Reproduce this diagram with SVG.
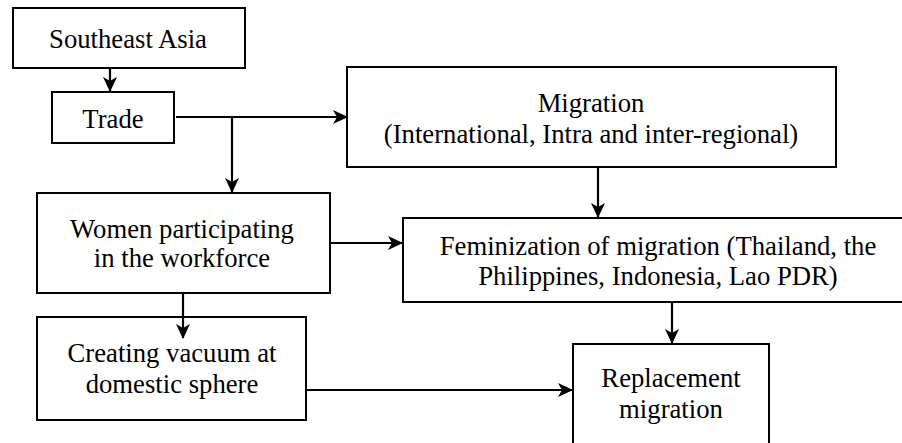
<svg xmlns="http://www.w3.org/2000/svg" width="902" height="443" viewBox="0 0 902 443" font-family="Liberation Serif, DejaVu Serif, serif">
<style>
.b{fill:#fff;stroke:#000;stroke-width:2}
.t{font-size:26.7px;fill:#000;text-anchor:middle}
.c{fill:none;stroke:#000;stroke-width:2.2}
</style>
<defs>
<marker id="ah" markerUnits="userSpaceOnUse" markerWidth="15" markerHeight="14" refX="14" refY="7" orient="auto">
<path d="M0,0 L15,7 L0,14 L4,7 Z" fill="#000"/>
</marker>
</defs>
<rect width="902" height="443" fill="#fff"/>
<g id="connectors">
<path class="c" d="M110,68 V91" marker-end="url(#ah)"/>
<path class="c" d="M176,117 H347" marker-end="url(#ah)"/>
<path class="c" d="M232,117 V192" marker-end="url(#ah)"/>
<path class="c" d="M598,167 V217" marker-end="url(#ah)"/>
<path class="c" d="M331,243 H402" marker-end="url(#ah)"/>
<path class="c" d="M672,302 V343" marker-end="url(#ah)"/>
<path class="c" d="M306,390 H572" marker-end="url(#ah)"/>
</g>
<g id="southeast-asia">
<rect class="b" x="13" y="8" width="232" height="60"/>
<text class="t" x="128" y="48" font-family="Liberation Serif">Southeast Asia</text>
</g>
<g id="trade">
<rect class="b" x="52" y="92" width="122" height="51"/>
<text class="t" x="113" y="128" font-family="Liberation Serif">Trade</text>
</g>
<g id="migration">
<rect class="b" x="347" y="67" width="489" height="100"/>
<text class="t" x="591" y="112" font-family="Liberation Serif">Migration</text>
<text class="t" x="591" y="143" font-family="Liberation Serif">(International, Intra and inter-regional)</text>
</g>
<g id="women">
<rect class="b" x="37" y="193" width="293" height="100"/>
<text class="t" x="182" y="238" font-family="Liberation Serif">Women participating</text>
<text class="t" x="182" y="267" font-family="Liberation Serif">in the workforce</text>
</g>
<g id="feminization">
<rect class="b" x="403" y="218" width="520" height="84"/>
<text class="t" x="658" y="255" font-family="Liberation Serif">Feminization of migration (Thailand, the</text>
<text class="t" x="658" y="285" font-family="Liberation Serif">Philippines, Indonesia, Lao PDR)</text>
</g>
<g id="creating-vacuum">
<rect class="b" x="37" y="317" width="269" height="103"/>
<text class="t" x="172" y="362" font-family="Liberation Serif">Creating vacuum at</text>
<text class="t" x="172" y="393" font-family="Liberation Serif">domestic sphere</text>
</g>
<g id="replacement">
<rect class="b" x="573" y="344" width="196" height="120"/>
<text class="t" x="671" y="387" font-family="Liberation Serif">Replacement</text>
<text class="t" x="671" y="418" font-family="Liberation Serif">migration</text>
</g>
<path class="c" d="M183,292 V338" marker-end="url(#ah)"/>
</svg>
